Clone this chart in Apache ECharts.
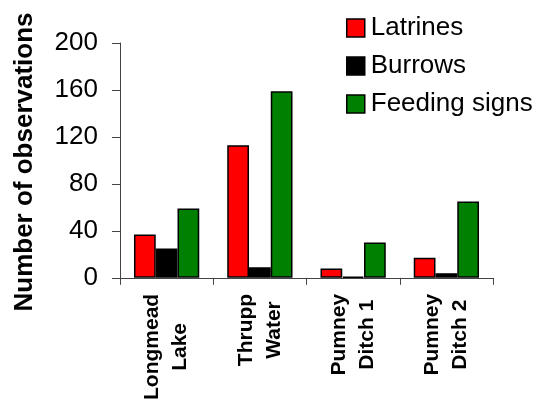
<!DOCTYPE html>
<html>
<head>
<meta charset="utf-8">
<script src="https://cdn.jsdelivr.net/npm/echarts@6/dist/echarts.min.js"></script>
<style>html,body{margin:0;padding:0;background:#fff;}#c{width:539px;height:403px;}</style>
</head>
<body>
<div id="c"></div>
<script>
var categories = ['Longmead\nLake', 'Thrupp\nWater', 'Pumney\nDitch 1', 'Pumney\nDitch 2'];
var latrines = [37, 113, 8, 17];
var burrows = [25, 9, 1, 4];
var feeding = [59, 159, 30, 65];
var yTicks = [0, 40, 80, 120, 160, 200];
var yTitle = 'Number of observations';

var FONT = '"Liberation Sans", Arial, sans-serif';
var chart = echarts.init(document.getElementById('c'));
function mkSeries(name, data, color) {
  return {
    name: name, type: 'bar', data: data,
    barGap: '0%', barCategoryGap: '30%',
    itemStyle: { color: color, borderColor: '#000', borderWidth: 1.5 },
    emphasis: { disabled: true }
  };
}
chart.setOption({
  animation: false,
  backgroundColor: '#fff',
  textStyle: { fontFamily: FONT },
  grid: { left: 120, top: 43, right: 46, bottom: 122, containLabel: false },
  graphic: [{
    type: 'text', x: 25, y: 162, rotation: Math.PI / 2,
    style: { text: yTitle, font: 'bold 26px ' + FONT, fill: '#000', align: 'center', verticalAlign: 'middle' }
  }],
  legend: {
    orient: 'vertical', left: 341, top: 9,
    itemWidth: 18, itemHeight: 18, itemGap: 10,
    icon: 'rect',
    textStyle: { fontSize: 26, color: '#000', fontFamily: FONT, padding: [0, 0, 0, 1], lineHeight: 28 },
    itemStyle: { borderColor: '#000', borderWidth: 1.5 },
    data: ['Latrines', 'Burrows', 'Feeding signs']
  },
  xAxis: {
    type: 'category',
    data: categories,
    axisLine: { lineStyle: { color: '#444', width: 1 } },
    axisTick: { show: true, length: 7, lineStyle: { color: '#444' } },
    axisLabel: {
      interval: 0, rotate: 90, margin: 16,
      formatter: function (v) {
        return v.split('\n').map(function (s) { return '{a|' + s + '}'; }).join('\n');
      },
      rich: {
        a: { align: 'center', fontSize: 21, fontWeight: 'bold', color: '#000', fontFamily: FONT, lineHeight: 28 }
      }
    }
  },
  yAxis: {
    type: 'value', min: 0, max: 200, interval: 40,
    axisLine: { show: true, lineStyle: { color: '#444', width: 1 } },
    axisTick: { show: true, length: 8, lineStyle: { color: '#444' } },
    splitLine: { show: false },
    axisLabel: {
      margin: 22, fontSize: 26, color: '#000', fontFamily: FONT,
      formatter: function (v) { return yTicks.indexOf(v) >= 0 ? String(v) : ''; }
    }
  },
  series: [
    mkSeries('Latrines', latrines, '#ff0000'),
    mkSeries('Burrows', burrows, '#000000'),
    mkSeries('Feeding signs', feeding, '#008000')
  ]
});
</script>
</body>
</html>
